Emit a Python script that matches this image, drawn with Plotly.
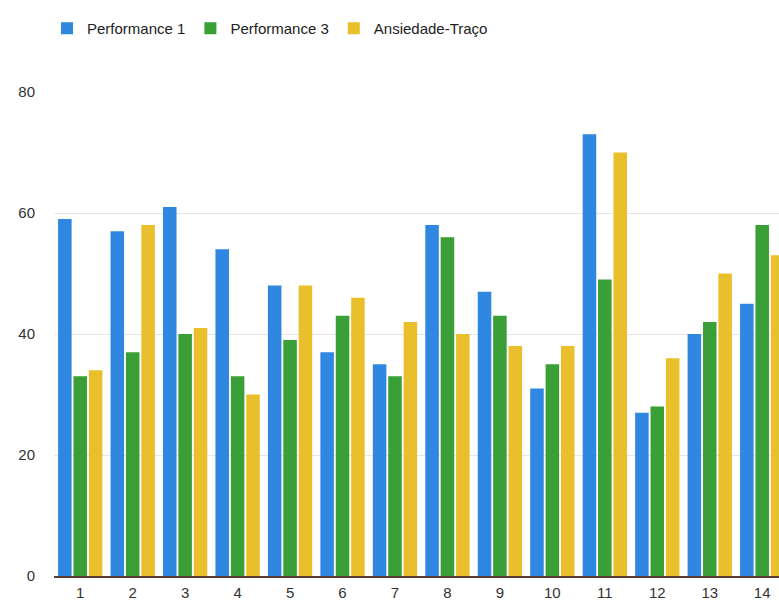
import plotly.graph_objects as go

categories = [str(i) for i in range(1, 15)]
perf1 = [59, 57, 61, 54, 48, 37, 35, 58, 47, 31, 73, 27, 40, 45]
perf3 = [33, 37, 40, 33, 39, 43, 33, 56, 43, 35, 49, 28, 42, 58]
ansiedade = [34, 58, 41, 30, 48, 46, 42, 40, 38, 38, 70, 36, 50, 53]

series_names = ["Performance 1", "Performance 3", "Ansiedade-Traço"]
colors = ["#2f87e2", "#3a9f36", "#e9bf2c"]

xpos = list(range(1, len(categories) + 1))

fig = go.Figure()
for name, vals, col in zip(series_names, [perf1, perf3, ansiedade], colors):
    fig.add_trace(go.Bar(
        x=xpos, y=vals, name=name,
        marker=dict(color=col, line=dict(width=0)),
    ))

fig.update_layout(
    width=779, height=602,
    margin=dict(l=54, r=0, t=92, b=26),
    paper_bgcolor="white", plot_bgcolor="white",
    barmode="group", bargap=0.12, bargroupgap=0.12,
    font=dict(family="Liberation Sans, Arial, sans-serif", size=15, color="#333333"),
    legend=dict(
        orientation="h", xref="container", yref="container",
        x=47/779, xanchor="left", y=1 - 12/602, yanchor="top",
        font=dict(size=15, color="#222222"),
        itemwidth=30, tracegroupgap=0,
    ),
    xaxis=dict(
        tickmode="array", tickvals=xpos, ticktext=categories,
        range=[0.5, 14.32], showgrid=False, zeroline=False,
        showline=True, linecolor="#5a3c32", linewidth=2,
        ticks="", ticklabelstandoff=2,
    ),
    yaxis=dict(
        range=[0, 80], tickvals=[0, 20, 40, 60, 80],
        showgrid=True, gridcolor="#e6e6e6", gridwidth=1,
        zeroline=False, showline=False, ticks="",
        ticklabelstandoff=18,
    ),
)

fig.write_html("out.html")
